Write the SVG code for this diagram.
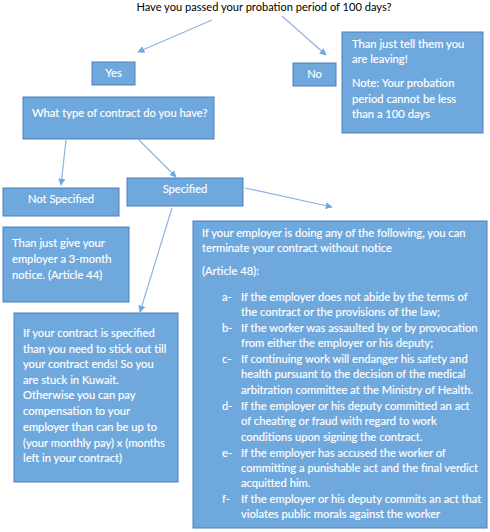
<svg xmlns="http://www.w3.org/2000/svg" width="490" height="532" viewBox="0 0 490 532">
<defs>
<style>
.box{fill:#6fa8dc;stroke:#4f7fbf;stroke-width:1}
.t{font-family:Lato,"Liberation Sans",sans-serif;font-size:11.2px;fill:#ffffff;stroke:#ffffff;stroke-width:0.15}
.c{text-anchor:middle}
.title{font-family:Lato,"Liberation Sans",sans-serif;font-size:11.1px;fill:#000000;text-anchor:middle}
.arr{stroke:#8db4e2;stroke-width:1.2;fill:none;marker-end:url(#ah)}
</style>
<marker id="ah" viewBox="0 0 10 10" refX="9" refY="5" markerWidth="7" markerHeight="7" orient="auto" markerUnits="userSpaceOnUse">
<path d="M0,0 L10,5 L0,10 z" fill="#6fa8dc"/>
</marker>
</defs>
<rect width="490" height="532" fill="#ffffff"/>
<g id="title"><text class="title" x="264" y="11">Have you passed your probation period of 100 days?</text></g>
<g id="connectors">
<line class="arr" x1="212" y1="20" x2="138" y2="52"/>
<line class="arr" x1="282" y1="16" x2="326" y2="55"/>
<line class="arr" x1="66" y1="140" x2="61" y2="185"/>
<line class="arr" x1="139" y1="140" x2="176" y2="177"/>
<line class="arr" x1="172" y1="208" x2="140" y2="312"/>
<line class="arr" x1="245" y1="188" x2="332" y2="207"/>
</g>
<g id="yes"><rect class="box" x="92" y="62" width="43" height="23"/><text class="t c" x="113.5" y="77">Yes</text></g>
<g id="no"><rect class="box" x="293" y="63" width="43" height="23"/><text class="t c" x="314.5" y="78">No</text></g>
<g id="leave"><rect class="box" x="342" y="32" width="141" height="101"/>
<text class="t" x="352" y="48">Than just tell them you</text>
<text class="t" x="352" y="63">are leaving!</text>
<text class="t" x="352" y="87">Note: Your probation</text>
<text class="t" x="352" y="103">period cannot be less</text>
<text class="t" x="352" y="118">than a 100 days</text>
</g>
<g id="contract"><rect class="box" x="23" y="97" width="191" height="42"/><text class="t" x="32" y="117">What type of contract do you have?</text></g>
<g id="notspecified"><rect class="box" x="3" y="188" width="116" height="28"/><text class="t c" x="61" y="203">Not Specified</text></g>
<g id="specified"><rect class="box" x="127" y="178" width="116" height="28"/><text class="t c" x="185" y="193">Specified</text></g>
<g id="notice"><rect class="box" x="3" y="227" width="126" height="75"/>
<text class="t" x="12" y="247">Than just give your</text>
<text class="t" x="12" y="263">employer a 3-month</text>
<text class="t" x="12" y="279">notice. (Article 44)</text>
</g>
<g id="stuck"><rect class="box" x="14" y="313" width="164" height="169"/>
<text class="t" x="23" y="337">If your contract is specified</text>
<text class="t" x="23" y="353">than you need to stick out till</text>
<text class="t" x="23" y="368">your contract ends! So you</text>
<text class="t" x="23" y="384">are stuck in Kuwait.</text>
<text class="t" x="23" y="399">Otherwise you can pay</text>
<text class="t" x="23" y="415">compensation to your</text>
<text class="t" x="23" y="431">employer than can be up to</text>
<text class="t" x="23" y="447">(your monthly pay) x (months</text>
<text class="t" x="23" y="462">left in your contract)</text>
</g>
<g id="article48"><rect class="box" x="193" y="221" width="294" height="307"/>
<text class="t" x="202" y="237">If your employer is doing any of the following, you can</text>
<text class="t" x="202" y="252">terminate your contract without notice</text>
<text class="t" x="202" y="275">(Article 48):</text>
<text class="t" x="222" y="301">a-</text><text class="t" x="241" y="301">If the employer does not abide by the terms of</text>
<text class="t" x="241" y="316">the contract or the provisions of the law;</text>
<text class="t" x="222" y="332">b-</text><text class="t" x="241" y="332">If the worker was assaulted by or by provocation</text>
<text class="t" x="241" y="347">from either the employer or his deputy;</text>
<text class="t" x="222" y="363">c-</text><text class="t" x="241" y="363">If continuing work will endanger his safety and</text>
<text class="t" x="241" y="378">health pursuant to the decision of the medical</text>
<text class="t" x="241" y="394">arbitration committee at the Ministry of Health.</text>
<text class="t" x="222" y="410">d-</text><text class="t" x="241" y="410">If the employer or his deputy committed an act</text>
<text class="t" x="241" y="425">of cheating or fraud with regard to work</text>
<text class="t" x="241" y="441">conditions upon signing the contract.</text>
<text class="t" x="222" y="457">e-</text><text class="t" x="241" y="457">If the employer has accused the worker of</text>
<text class="t" x="241" y="472">committing a punishable act and the final verdict</text>
<text class="t" x="241" y="487">acquitted him.</text>
<text class="t" x="222" y="503">f-</text><text class="t" x="241" y="503">If the employer or his deputy commits an act that</text>
<text class="t" x="241" y="518">violates public morals against the worker</text>
</g>
</svg>
